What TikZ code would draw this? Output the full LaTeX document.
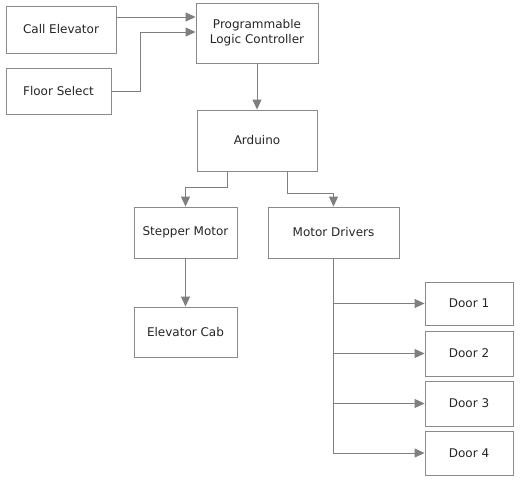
\documentclass[tikz,border=0pt]{standalone}
\usepackage{fontspec}
\setmainfont{DejaVu Sans}
\usetikzlibrary{arrows.meta}
\definecolor{boxline}{HTML}{8A8A8A}
\definecolor{arrline}{HTML}{7F7F7F}
\definecolor{txt}{HTML}{262626}
\begin{document}
\begin{tikzpicture}[x=1pt,y=-1pt,
  box/.style={draw=boxline,line width=0.9pt,fill=white,text=txt,inner sep=0pt,align=center,
    font=\fontsize{12}{15}\selectfont},
  arr/.style={draw=arrline,line width=0.9pt,-{Triangle[length=10pt,width=9pt]}}]
\useasboundingbox (0,0) rectangle (523,482);
\node[box,minimum width=110pt,minimum height=47pt] (ce) at (61,29.5) {Call Elevator};
\node[box,minimum width=105pt,minimum height=46pt] (fs) at (58.5,91) {Floor Select};
\node[box,minimum width=122pt,minimum height=60pt] (plc) at (257,33) {Programmable\\Logic Controller};
\node[box,minimum width=120pt,minimum height=61pt] (ard) at (257,140.5) {Arduino};
\node[box,minimum width=103pt,minimum height=51pt] (st) at (185.5,232.5) {Stepper Motor};
\node[box,minimum width=131pt,minimum height=51pt] (md) at (333.5,232.5) {Motor Drivers};
\node[box,minimum width=103pt,minimum height=50pt] (cab) at (185.5,332) {Elevator Cab};
\node[box,minimum width=88pt,minimum height=43pt] (d1) at (469,303.5) {Door 1};
\node[box,minimum width=88pt,minimum height=45pt] (d2) at (469,353.5) {Door 2};
\node[box,minimum width=88pt,minimum height=45pt] (d3) at (469,403.5) {Door 3};
\node[box,minimum width=88pt,minimum height=44pt] (d4) at (469,453) {Door 4};
\draw[arr] (ce.east |- 0,17) -- (plc.west |- 0,17);
\draw[arr] (fs.east) -- (140,91) -- (140,32) -- (plc.west |- 0,32);
\draw[arr] (plc.south) -- (ard.north);
\draw[arr] (ard.south -| 227,0) -- (227,187) -- (st.north |- 0,187) -- (st.north);
\draw[arr] (ard.south -| 287,0) -- (287,193) -- (md.north |- 0,193) -- (md.north);
\draw[arr] (st.south) -- (cab.north);
\draw[arr] (md.south) |- (d1.west);
\draw[arr] (md.south) |- (d2.west);
\draw[arr] (md.south) |- (d3.west);
\draw[arr] (md.south) |- (d4.west);
\end{tikzpicture}
\end{document}
